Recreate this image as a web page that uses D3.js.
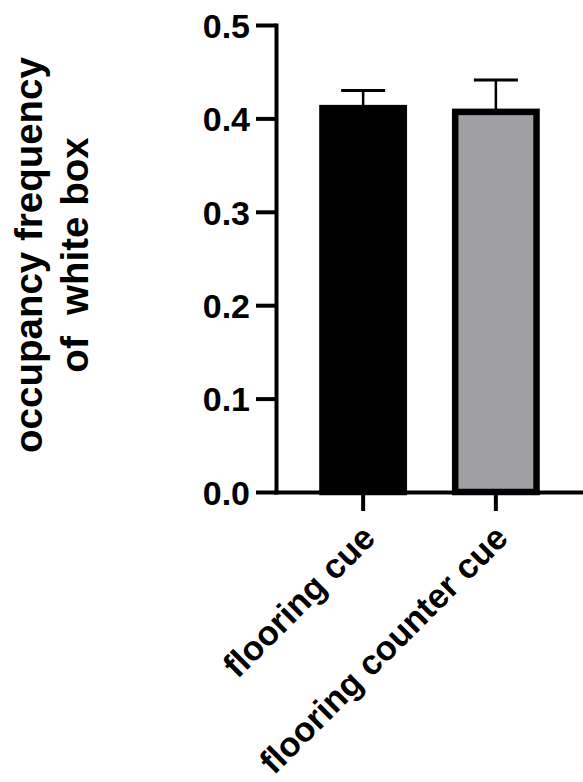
<!DOCTYPE html>
<html>
<head>
<meta charset="utf-8">
<script src="https://cdn.jsdelivr.net/npm/d3@7"></script>
<style>
  body { margin: 0; background: #fff; }
  svg { display: block; }
  text { font-family: "Liberation Sans", Arial, Helvetica, sans-serif; font-weight: bold; fill: #000; }
</style>
</head>
<body>
<svg width="583" height="782"></svg>
<script>
let categories = ["flooring cue", "flooring counter cue"];
let means = [0.411, 0.407];
let errors = [0.019, 0.034];
let yTicks = [0.0, 0.1, 0.2, 0.3, 0.4, 0.5];
let fills = ["#000000", "#a09fa4"];
let titleLines = ["occupancy frequency", "of  white box"];

let svg = d3.select("svg");

let x = d3.scaleBand()
  .domain(categories)
  .range([276, 583])
  .paddingInner(0.387)
  .paddingOuter(0.35);

let y = d3.scaleLinear()
  .domain([0, 0.5])
  .range([492, 25]);

// bars
svg.append("g")
  .selectAll("rect")
  .data(categories)
  .enter().append("rect")
  .attr("x", d => x(d))
  .attr("width", x.bandwidth())
  .attr("y", (d, i) => y(means[i]))
  .attr("height", (d, i) => y(0) - y(means[i]))
  .attr("fill", (d, i) => fills[i])
  .attr("stroke", "#000")
  .attr("stroke-width", 6.5);

// error bars (upper only)
let err = svg.append("g")
  .selectAll("g")
  .data(categories)
  .enter().append("g");

err.append("line")
  .attr("x1", d => x(d) + x.bandwidth() / 2)
  .attr("x2", d => x(d) + x.bandwidth() / 2)
  .attr("y1", (d, i) => y(means[i]))
  .attr("y2", (d, i) => y(means[i] + errors[i]))
  .attr("stroke", "#000")
  .attr("stroke-width", 2.5);

err.append("line")
  .attr("x1", d => x(d) + x.bandwidth() / 2 - 22)
  .attr("x2", d => x(d) + x.bandwidth() / 2 + 22)
  .attr("y1", (d, i) => y(means[i] + errors[i]))
  .attr("y2", (d, i) => y(means[i] + errors[i]))
  .attr("stroke", "#000")
  .attr("stroke-width", 3);

// axes
let yAxis = svg.append("g")
  .attr("transform", "translate(276,0)")
  .call(d3.axisLeft(y)
    .tickValues(yTicks)
    .tickFormat(d3.format(".1f"))
    .tickSize(20)
    .tickSizeOuter(0)
    .tickPadding(6));

let xAxis = svg.append("g")
  .attr("transform", "translate(0,492)")
  .call(d3.axisBottom(x)
    .tickSize(19)
    .tickSizeOuter(0));

[yAxis, xAxis].forEach(a => {
  a.select(".domain").attr("stroke-width", 4).attr("stroke-linecap", "square");
  a.selectAll(".tick line").attr("stroke-width", 4);
  a.selectAll("text").attr("font-family", null);
});

yAxis.selectAll("text")
  .attr("font-size", 34)
  .attr("dy", "0.36em");

xAxis.selectAll("text")
  .attr("font-size", 34.5)
  .attr("text-anchor", "end")
  .attr("x", 0)
  .attr("y", 0)
  .attr("dy", 0)
  .attr("transform", "translate(14,48) rotate(-45)");

// y title
svg.append("text")
  .attr("transform", "translate(42,255) rotate(-90)")
  .attr("text-anchor", "middle")
  .attr("font-size", 38.5)
  .style("white-space", "pre")
  .selectAll("tspan")
  .data(titleLines)
  .enter().append("tspan")
  .attr("x", 0)
  .attr("y", (d, i) => i * 46)
  .text(d => d);
</script>
</body>
</html>
